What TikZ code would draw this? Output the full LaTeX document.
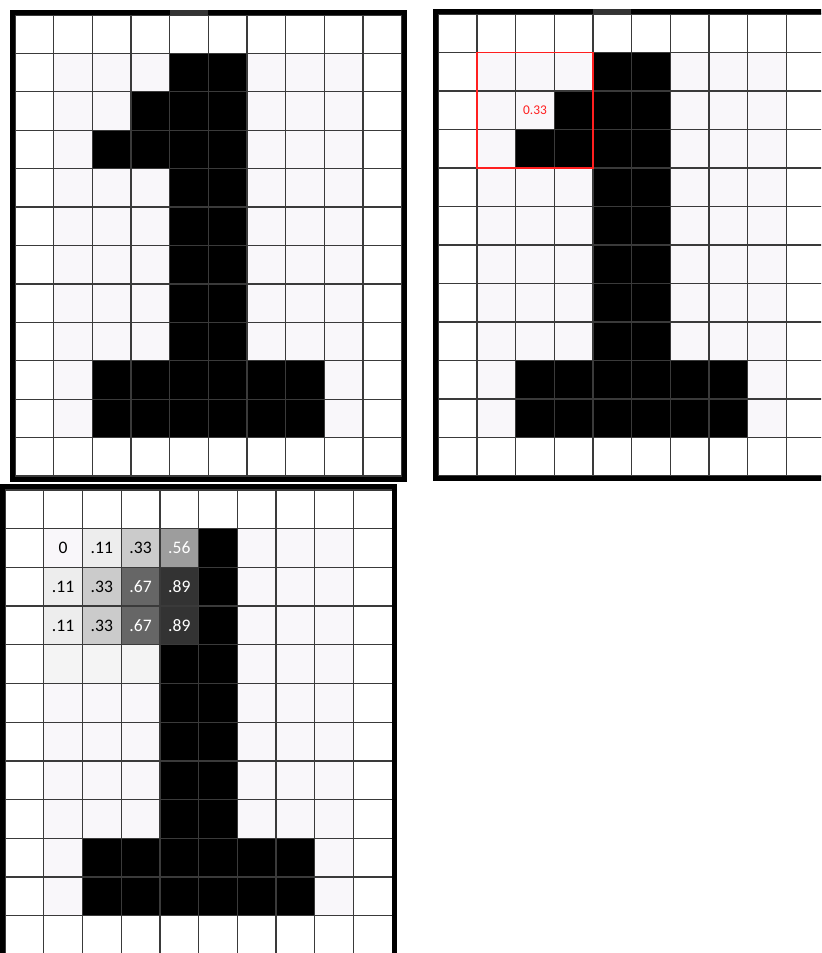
\documentclass[tikz,border=0pt]{standalone}
\usepackage{fontspec}
\setmainfont{Carlito}
\usepackage{xcolor}
\usepackage{tikz}
\definecolor{ink}{HTML}{3A3A3A}
\definecolor{paper}{HTML}{F9F7FA}
\definecolor{paperB}{HTML}{F4F4F4}
\definecolor{hilite}{HTML}{FF1F1F}
\definecolor{gA}{HTML}{EDEDED}
\definecolor{gB}{HTML}{CBCBCB}
\definecolor{gC}{HTML}{9D9D9D}
\definecolor{gD}{HTML}{666666}
\definecolor{gE}{HTML}{333333}

% the digit on a 10x12 board (cell units)
\newcommand{\onepixels}{%
  \fill[paper] (1,1) rectangle (9,11);
  \fill[black] (4,1) rectangle (6,9) (3,2) rectangle (4,3)
    (2,3) rectangle (4,4) (2,9) rectangle (8,11);
}
\newcommand{\pixelgrid}{%
  \foreach \i in {0,...,10} \draw[gridline] (\i,0) -- (\i,12);
  \foreach \j in {0,...,12} \draw[gridline] (0,\j) -- (10,\j);
}

\begin{document}
\begin{tikzpicture}[x=0.1mm,y=-0.1mm,
  gridline/.style={ink,line width=0.13mm},
  frame/.style={black,line width=0.5mm},
  val/.style={font=\fontsize{5pt}{6pt}\selectfont,inner sep=0pt},
  redbox/.style={hilite,line width=0.18mm}]
\clip (0,0) rectangle (821,953);
\fill[white] (0,0) rectangle (821,953);
% left board: input image
\begin{scope}[shift={(1.5mm,-1.5mm)},x=3.867mm,y=-3.842mm]
\onepixels
\pixelgrid
\end{scope}
\draw[frame] (12.5,12.5) rectangle (404.5,479.5);
\fill[gE] (170,10) rectangle (208,15);
% right board: 3x3 window
\begin{scope}[shift={(43.83mm,-1.4mm)},x=3.867mm,y=-3.85mm]
\onepixels
\pixelgrid
\draw[redbox] (1,1) rectangle (4,4);
\node[val,hilite,font=\fontsize{3.8pt}{4.5pt}\selectfont] (win) at (2.5,2.5) {0.33};
\end{scope}
\draw[frame] (435.5,11.5) rectangle (840,478.5);
\fill[gE] (593,9) rectangle (631,14);
% bottom board: filtered values
\begin{scope}[shift={(0.5mm,-49.0mm)},x=3.873mm,y=-3.87mm]
\onepixels
\fill[paperB] (1,4) rectangle (4,5);
\foreach \c/\r/\txt/\bg/\fg in {1/1/0/paper/black, 2/1/.11/gA/black,
    3/1/.33/gB/black, 4/1/.56/gC/white,
    1/2/.11/gA/black, 2/2/.33/gB/black, 3/2/.67/gD/white, 4/2/.89/gE/white,
    1/3/.11/gA/black, 2/3/.33/gB/black, 3/3/.67/gD/white, 4/3/.89/gE/white}
  {\fill[\bg] (\c,\r) rectangle ++(1,1);
   \node[val,text=\fg] (v\c\r) at (\c+0.5,\r+0.5) {\txt};}
\pixelgrid
\end{scope}
\draw[frame] (2.5,486.5) rectangle (394.5,1000);
\end{tikzpicture}
\end{document}
